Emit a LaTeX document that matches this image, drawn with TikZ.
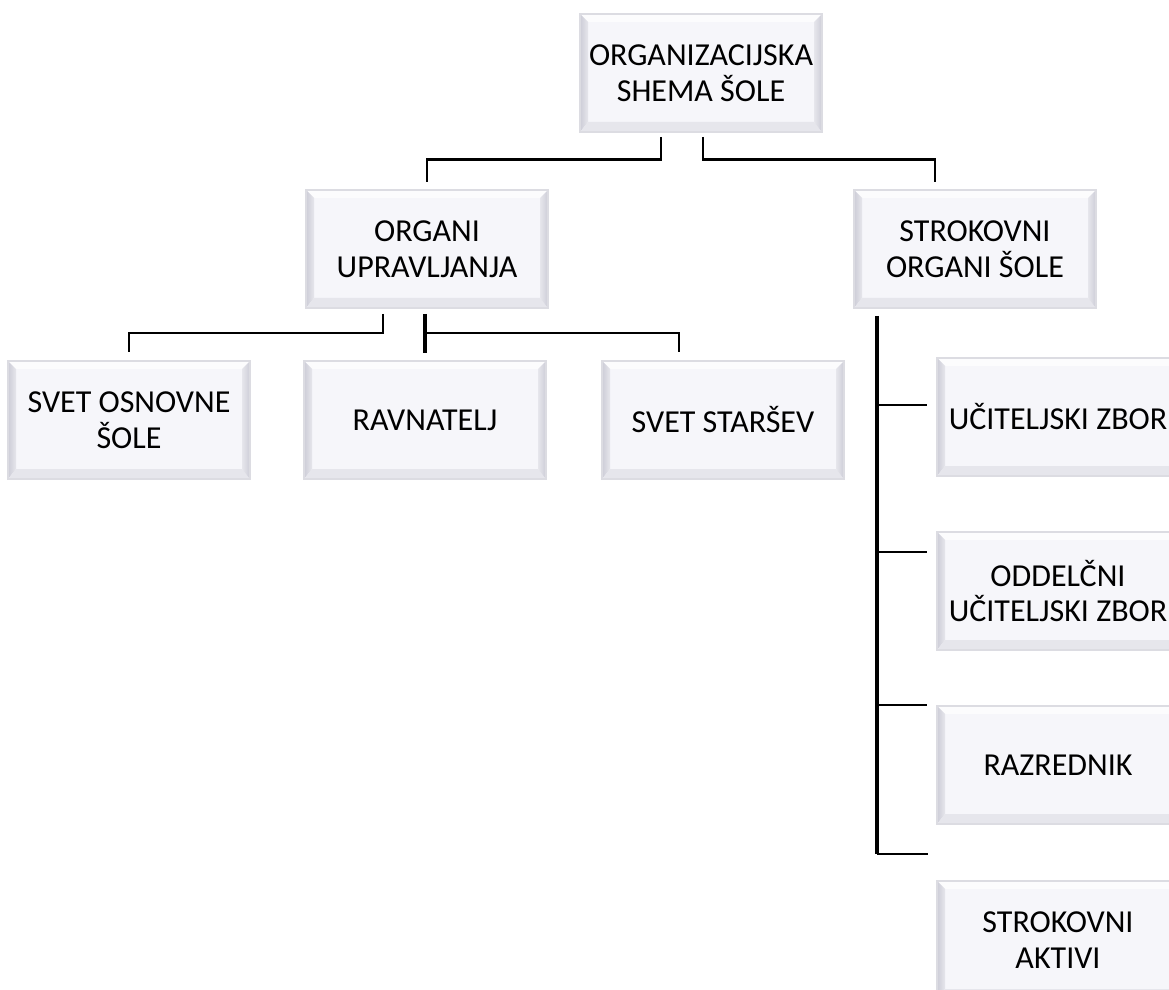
\documentclass[tikz,border=0pt]{standalone}
\usepackage{fontspec}
\setmainfont{Carlito}
\definecolor{boxface}{RGB}{246,246,250}
\definecolor{boxedge}{RGB}{220,220,226}
\definecolor{bevlight}{RGB}{252,252,253}
\definecolor{bevdark}{RGB}{205,205,215}
\definecolor{bevmid}{RGB}{230,230,236}
\tikzset{
  bevelbox/.style={minimum width=121pt,minimum height=59pt,inner sep=0pt,align=center,
    fill=boxface,draw=boxedge,line width=0.8pt,
    path picture={
      \path (path picture bounding box.north west) coordinate (pnw)
            (path picture bounding box.north east) coordinate (pne)
            (path picture bounding box.south west) coordinate (psw)
            (path picture bounding box.south east) coordinate (pse);
      \fill[bevlight] (pnw) -- (pne) -- ([shift={(-4pt,-4pt)}]pne) -- ([shift={(4pt,-4pt)}]pnw) -- cycle;
      \shade[left color=bevdark,right color=bevmid] (pnw) -- ([shift={(4pt,-4pt)}]pnw) -- ([shift={(4pt,5pt)}]psw) -- (psw) -- cycle;
      \fill[bevmid] (psw) -- ([shift={(4pt,5pt)}]psw) -- ([shift={(-4pt,5pt)}]pse) -- (pse) -- cycle;
      \shade[left color=bevmid,right color=bevdark] (pne) -- ([shift={(-4pt,-4pt)}]pne) -- ([shift={(-4pt,5pt)}]pse) -- (pse) -- cycle;
    }},
  conn/.style={line width=1.3pt},
  thickconn/.style={line width=2pt}
}
\begin{document}
\begin{tikzpicture}[x=0.5pt,y=-0.5pt,font=\fontsize{16}{17.8}\selectfont,line cap=butt,line join=miter]
  \clip (0,0) rectangle (1169,990);
  % boxes
  \node[bevelbox] (top) at (701,73) {ORGANIZACIJSKA\\SHEMA ŠOLE};
  \node[bevelbox] (organi) at (427,249) {ORGANI\\UPRAVLJANJA};
  \node[bevelbox] (strok) at (975,249) {STROKOVNI\\ORGANI ŠOLE};
  \node[bevelbox] (svet) at (129,420) {SVET OSNOVNE\\ŠOLE};
  \node[bevelbox] (ravn) at (425,420) {RAVNATELJ};
  \node[bevelbox] (stars) at (723,420) {SVET STARŠEV};
  \node[bevelbox] (ucit) at (1058,417) {UČITELJSKI ZBOR};
  \node[bevelbox] (oddel) at (1058,591) {ODDELČNI\\UČITELJSKI ZBOR};
  \node[bevelbox] (razr) at (1058,765) {RAZREDNIK};
  \node[bevelbox] (aktivi) at (1058,940) {STROKOVNI\\AKTIVI};
  % connectors from the top
  \draw[conn] ([shift={(-20pt,-2pt)}]top.south) -- ++(0,23) -| ([yshift=3.5pt]organi.north);
  \draw[conn] ([shift={(1pt,-2pt)}]top.south) -- ++(0,23) -| ([shift={(-20pt,3.5pt)}]strok.north);
  % organi upravljanja
  \draw[conn] ([shift={(-22pt,-2.5pt)}]organi.south) -- ++(0,19) -| ([yshift=4pt]svet.north);
  \draw[thickconn] ([yshift=-2.5pt]organi.south -| ravn.north) -- ([yshift=3.5pt]ravn.north);
  \draw[conn] ([yshift=-12pt]organi.south -| ravn.north) -| ([shift={(-22pt,4pt)}]stars.north);
  % strokovni organi
  \draw[thickconn] ([shift={(-49pt,-3.5pt)}]strok.south) coordinate (spine) -- ++(0,538) coordinate (spineend);
  \draw[conn] ([yshift=6pt]ucit.west -| spine) -- ([shift={(-4.5pt,6pt)}]ucit.west);
  \draw[conn] ([yshift=19.5pt]oddel.west -| spine) -- ([shift={(-4.5pt,19.5pt)}]oddel.west);
  \draw[conn] ([yshift=30pt]razr.west -| spine) -- ([shift={(-4.5pt,30pt)}]razr.west);
  \draw[conn] (spineend) -- ++(51,0);
\end{tikzpicture}
\end{document}
